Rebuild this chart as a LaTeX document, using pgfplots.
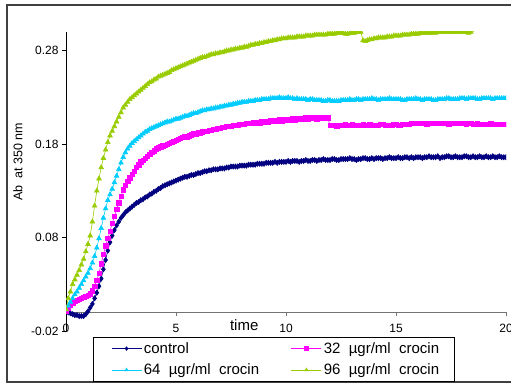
\documentclass[border=0pt]{standalone}
\usepackage{fontspec}
\setmainfont{Liberation Sans}
\usepackage{pgfplots}
\pgfplotsset{compat=1.18}
\definecolor{cnavy}{RGB}{0,0,128}
\definecolor{cmag}{RGB}{255,0,255}
\definecolor{ccyan}{RGB}{0,204,255}
\definecolor{cgreen}{RGB}{153,204,0}
\begin{document}
\begin{tikzpicture}[x=1pt,y=1pt]
\useasboundingbox (0,0) rectangle (511,383);
\draw[line width=1.3pt, black!75] (7,1) rectangle (530,378);
\node[rotate=90, font=\fontsize{12.5}{15}\selectfont, inner sep=0pt] at (18,221) {Ab\ \ at 350 nm};
\begin{axis}[
  at={(66pt,52pt)}, anchor=south west,
  scale only axis, width=440pt, height=299pt,
  xmin=0, xmax=20, ymin=-0.02, ymax=0.30,
  axis x line*=middle, axis y line*=left,
  xtick={0,5,10,15,20}, xticklabels={0,5,10,15,20},
  ytick={-0.02,0.08,0.18,0.28}, yticklabels={-0.02,0.08,0.18,0.28},
  hide obscured x ticks=false, hide obscured y ticks=false,
  tick align=outside, major tick length=4pt,
  x axis line style={black!55, line width=1pt},
  y axis line style={black, line width=0.8pt},
  xtick style={black!55, line width=0.8pt},
  ytick style={black, line width=0.8pt},
  tick label style={font=\fontsize{12}{14}\selectfont},
  xticklabel style={yshift=-4pt},
  xlabel={\fontsize{15}{17}\selectfont time},
  xlabel style={at={(axis description cs:0.405,0.02)}, anchor=center},
  clip marker paths=true,
  legend columns=2,
  legend cell align=left,
  legend style={at={(axis description cs:0.061,-0.02)}, anchor=north west,
    draw=black, line width=0.8pt, fill=white,
    font=\fontsize{15}{17}\selectfont,
    inner xsep=13pt, inner ysep=3pt,
    /tikz/every even column/.append style={column sep=25pt},
    row sep=5pt},
  legend image code/.code={\path (0pt,0pt); \draw[mark repeat=2,mark phase=2,#1, mark size=1.8pt] plot coordinates {(5pt,0pt) (20pt,0pt) (35pt,0pt)};},
]
\addplot[cnavy, line width=0.6pt, mark=diamond*, mark size=2.6pt, mark options={solid}] coordinates {
(0,0.001) (0.1,0.000) (0.2,-0.001) (0.3,-0.002) (0.4,-0.003) (0.5,-0.003) (0.6,-0.004) (0.7,-0.004) (0.8,-0.004) (0.9,-0.002)
(1.0,0.001) (1.1,0.005) (1.2,0.009) (1.3,0.015) (1.4,0.021) (1.5,0.028) (1.6,0.036) (1.7,0.046) (1.8,0.056) (1.9,0.066)
(2.0,0.075) (2.1,0.082) (2.2,0.088) (2.3,0.093) (2.4,0.097) (2.5,0.101) (2.6,0.104) (2.7,0.107) (2.8,0.109) (2.9,0.111)
(3.0,0.113) (3.1,0.115) (3.2,0.117) (3.3,0.118) (3.4,0.120) (3.5,0.121) (3.6,0.123) (3.7,0.124) (3.8,0.126) (3.9,0.127)
(4.0,0.129) (4.1,0.130) (4.2,0.132) (4.3,0.133) (4.4,0.135) (4.5,0.136) (4.6,0.137) (4.7,0.138) (4.8,0.139) (4.9,0.140)
(5.0,0.141) (5.1,0.142) (5.2,0.143) (5.3,0.144) (5.4,0.145) (5.5,0.145) (5.6,0.146) (5.7,0.147) (5.8,0.147) (5.9,0.148)
(6.0,0.149) (6.1,0.149) (6.2,0.150) (6.3,0.151) (6.4,0.151) (6.5,0.152) (6.6,0.152) (6.7,0.153) (6.8,0.153) (6.9,0.153)
(7.0,0.154) (7.1,0.154) (7.2,0.154) (7.3,0.155) (7.4,0.155) (7.5,0.156) (7.6,0.156) (7.7,0.156) (7.8,0.156) (7.9,0.157)
(8.0,0.157) (8.1,0.157) (8.2,0.157) (8.3,0.158) (8.4,0.158) (8.5,0.158) (8.6,0.158) (8.7,0.159) (8.8,0.159) (8.9,0.159)
(9.0,0.159) (9.1,0.160) (9.2,0.160) (9.3,0.160) (9.4,0.160) (9.5,0.161) (9.6,0.160) (9.7,0.161) (9.8,0.161) (9.9,0.161)
(10.0,0.161) (10.1,0.162) (10.2,0.161) (10.3,0.162) (10.4,0.162) (10.5,0.162) (10.6,0.161) (10.7,0.162) (10.8,0.162) (10.9,0.163)
(11.0,0.162) (11.1,0.162) (11.2,0.163) (11.3,0.163) (11.4,0.162) (11.5,0.163) (11.6,0.163) (11.7,0.164) (11.8,0.163) (11.9,0.163)
(12.0,0.163) (12.1,0.164) (12.2,0.164) (12.3,0.163) (12.4,0.163) (12.5,0.164) (12.6,0.164) (12.7,0.164) (12.8,0.164) (12.9,0.165)
(13.0,0.164) (13.1,0.164) (13.2,0.163) (13.3,0.164) (13.4,0.164) (13.5,0.165) (13.6,0.165) (13.7,0.164) (13.8,0.164) (13.9,0.165)
(14.0,0.164) (14.1,0.165) (14.2,0.165) (14.3,0.165) (14.4,0.164) (14.5,0.165) (14.6,0.165) (14.7,0.166) (14.8,0.165) (14.9,0.165)
(15.0,0.165) (15.1,0.166) (15.2,0.165) (15.3,0.165) (15.4,0.166) (15.5,0.166) (15.6,0.165) (15.7,0.166) (15.8,0.165) (15.9,0.166)
(16.0,0.166) (16.1,0.166) (16.2,0.165) (16.3,0.166) (16.4,0.166) (16.5,0.167) (16.6,0.166) (16.7,0.166) (16.8,0.166) (16.9,0.167)
(17.0,0.165) (17.1,0.166) (17.2,0.166) (17.3,0.167) (17.4,0.167) (17.5,0.166) (17.6,0.166) (17.7,0.167) (17.8,0.166) (17.9,0.166)
(18.0,0.166) (18.1,0.167) (18.2,0.167) (18.3,0.166) (18.4,0.166) (18.5,0.167) (18.6,0.166) (18.7,0.166) (18.8,0.167) (18.9,0.166)
(19.0,0.166) (19.1,0.167) (19.2,0.166) (19.3,0.166) (19.4,0.167) (19.5,0.166) (19.6,0.166) (19.7,0.167) (19.8,0.166) (19.9,0.166) (20.0,0.166)
};
\addlegendentry{control}
\addplot[cmag, line width=0.6pt, mark=square*, mark size=2.2pt, mark options={solid}] coordinates {
(0,0.001) (0.1,0.005) (0.2,0.008) (0.3,0.010) (0.4,0.012) (0.5,0.013) (0.6,0.014) (0.7,0.015) (0.8,0.016) (0.9,0.017)
(1.0,0.018) (1.1,0.020) (1.2,0.023) (1.3,0.028) (1.4,0.034) (1.5,0.042) (1.6,0.052) (1.7,0.062) (1.8,0.071) (1.9,0.079)
(2.0,0.087) (2.1,0.095) (2.2,0.103) (2.3,0.110) (2.4,0.117) (2.5,0.124) (2.6,0.131) (2.7,0.136) (2.8,0.140) (2.9,0.144)
(3.0,0.148) (3.1,0.151) (3.2,0.155) (3.3,0.158) (3.4,0.161) (3.5,0.163) (3.6,0.165) (3.7,0.167) (3.8,0.169) (3.9,0.171)
(4.0,0.173) (4.1,0.175) (4.2,0.176) (4.3,0.177) (4.4,0.178) (4.5,0.179) (4.6,0.180) (4.7,0.181) (4.8,0.182) (4.9,0.183)
(5.0,0.184) (5.1,0.185) (5.2,0.186) (5.3,0.187) (5.4,0.188) (5.5,0.188) (5.6,0.189) (5.7,0.190) (5.8,0.191) (5.9,0.191)
(6.0,0.192) (6.1,0.192) (6.2,0.193) (6.3,0.194) (6.4,0.194) (6.5,0.195) (6.6,0.195) (6.7,0.196) (6.8,0.196) (6.9,0.197)
(7.0,0.197) (7.1,0.198) (7.2,0.198) (7.3,0.199) (7.4,0.199) (7.5,0.199) (7.6,0.200) (7.7,0.200) (7.8,0.200) (7.9,0.201)
(8.0,0.201) (8.1,0.201) (8.2,0.202) (8.3,0.202) (8.4,0.202) (8.5,0.203) (8.6,0.203) (8.7,0.203) (8.8,0.203) (8.9,0.204)
(9.0,0.204) (9.1,0.204) (9.2,0.204) (9.3,0.205) (9.4,0.205) (9.5,0.205) (9.6,0.205) (9.7,0.206) (9.8,0.205) (9.9,0.206)
(10.0,0.206) (10.1,0.206) (10.2,0.206) (10.3,0.207) (10.4,0.206) (10.5,0.207) (10.6,0.207) (10.7,0.207) (10.8,0.207) (10.9,0.208)
(11.0,0.207) (11.1,0.208) (11.2,0.208) (11.3,0.208) (11.4,0.207) (11.5,0.208) (11.6,0.208) (11.7,0.209) (11.8,0.208) (11.9,0.208)
(12.0,0.200) (12.1,0.200) (12.2,0.200) (12.3,0.199) (12.4,0.200) (12.5,0.200) (12.6,0.200) (12.7,0.201) (12.8,0.200) (12.9,0.200)
(13.0,0.201) (13.1,0.200) (13.2,0.200) (13.3,0.200) (13.4,0.200) (13.5,0.201) (13.6,0.200) (13.7,0.200) (13.8,0.201) (13.9,0.200)
(14.0,0.200) (14.1,0.200) (14.2,0.200) (14.3,0.201) (14.4,0.201) (14.5,0.200) (14.6,0.200) (14.7,0.200) (14.8,0.200) (14.9,0.201)
(15.0,0.201) (15.1,0.200) (15.2,0.200) (15.3,0.201) (15.4,0.201) (15.5,0.201) (15.6,0.201) (15.7,0.202) (15.8,0.202) (15.9,0.202)
(16.0,0.202) (16.1,0.202) (16.2,0.202) (16.3,0.202) (16.4,0.201) (16.5,0.202) (16.6,0.202) (16.7,0.202) (16.8,0.202) (16.9,0.202)
(17.0,0.202) (17.1,0.202) (17.2,0.202) (17.3,0.202) (17.4,0.201) (17.5,0.202) (17.6,0.202) (17.7,0.202) (17.8,0.202) (17.9,0.202)
(18.0,0.202) (18.1,0.202) (18.2,0.201) (18.3,0.202) (18.4,0.202) (18.5,0.201) (18.6,0.201) (18.7,0.202) (18.8,0.201) (18.9,0.201)
(19.0,0.201) (19.1,0.201) (19.2,0.201) (19.3,0.202) (19.4,0.201) (19.5,0.201) (19.6,0.201) (19.7,0.201) (19.8,0.201) (19.9,0.201) (20.0,0.201)
};
\addlegendentry{32\ \ µgr/ml\ \ crocin}
\addplot[ccyan, line width=0.6pt, mark=triangle*, mark size=2.7pt, mark options={solid}] coordinates {
(0,0.003) (0.1,0.007) (0.2,0.011) (0.3,0.015) (0.4,0.019) (0.5,0.022) (0.6,0.026) (0.7,0.030) (0.8,0.034) (0.9,0.038)
(1.0,0.042) (1.1,0.047) (1.2,0.053) (1.3,0.060) (1.4,0.069) (1.5,0.079) (1.6,0.090) (1.7,0.101) (1.8,0.111) (1.9,0.120)
(2.0,0.126) (2.1,0.132) (2.2,0.139) (2.3,0.146) (2.4,0.153) (2.5,0.160) (2.6,0.166) (2.7,0.171) (2.8,0.175) (2.9,0.178)
(3.0,0.181) (3.1,0.183) (3.2,0.185) (3.3,0.187) (3.4,0.189) (3.5,0.191) (3.6,0.193) (3.7,0.194) (3.8,0.196) (3.9,0.197)
(4.0,0.198) (4.1,0.199) (4.2,0.200) (4.3,0.201) (4.4,0.202) (4.5,0.203) (4.6,0.204) (4.7,0.204) (4.8,0.205) (4.9,0.206)
(5.0,0.207) (5.1,0.207) (5.2,0.208) (5.3,0.209) (5.4,0.210) (5.5,0.210) (5.6,0.211) (5.7,0.212) (5.8,0.213) (5.9,0.213)
(6.0,0.214) (6.1,0.215) (6.2,0.216) (6.3,0.216) (6.4,0.217) (6.5,0.217) (6.6,0.218) (6.7,0.218) (6.8,0.219) (6.9,0.219)
(7.0,0.220) (7.1,0.220) (7.2,0.221) (7.3,0.221) (7.4,0.222) (7.5,0.222) (7.6,0.223) (7.7,0.223) (7.8,0.224) (7.9,0.224)
(8.0,0.225) (8.1,0.225) (8.2,0.225) (8.3,0.226) (8.4,0.226) (8.5,0.226) (8.6,0.227) (8.7,0.227) (8.8,0.227) (8.9,0.228)
(9.0,0.228) (9.1,0.228) (9.2,0.228) (9.3,0.229) (9.4,0.229) (9.5,0.229) (9.6,0.229) (9.7,0.230) (9.8,0.229) (9.9,0.229)
(10.0,0.229) (10.1,0.230) (10.2,0.229) (10.3,0.229) (10.4,0.228) (10.5,0.229) (10.6,0.228) (10.7,0.228) (10.8,0.228) (10.9,0.228)
(11.0,0.227) (11.1,0.228) (11.2,0.228) (11.3,0.227) (11.4,0.227) (11.5,0.227) (11.6,0.227) (11.7,0.226) (11.8,0.226) (11.9,0.227)
(12.0,0.227) (12.1,0.226) (12.2,0.226) (12.3,0.226) (12.4,0.226) (12.5,0.227) (12.6,0.227) (12.7,0.227) (12.8,0.227) (12.9,0.228)
(13.0,0.227) (13.1,0.227) (13.2,0.228) (13.3,0.228) (13.4,0.227) (13.5,0.228) (13.6,0.228) (13.7,0.228) (13.8,0.228) (13.9,0.229)
(14.0,0.228) (14.1,0.228) (14.2,0.227) (14.3,0.228) (14.4,0.228) (14.5,0.228) (14.6,0.228) (14.7,0.229) (14.8,0.228) (14.9,0.228)
(15.0,0.228) (15.1,0.228) (15.2,0.228) (15.3,0.227) (15.4,0.227) (15.5,0.228) (15.6,0.228) (15.7,0.228) (15.8,0.228) (15.9,0.229)
(16.0,0.228) (16.1,0.228) (16.2,0.227) (16.3,0.228) (16.4,0.228) (16.5,0.228) (16.6,0.228) (16.7,0.227) (16.8,0.227) (16.9,0.228)
(17.0,0.228) (17.1,0.228) (17.2,0.228) (17.3,0.229) (17.4,0.229) (17.5,0.228) (17.6,0.228) (17.7,0.228) (17.8,0.228) (17.9,0.229)
(18.0,0.229) (18.1,0.229) (18.2,0.228) (18.3,0.229) (18.4,0.229) (18.5,0.229) (18.6,0.229) (18.7,0.228) (18.8,0.228) (18.9,0.229)
(19.0,0.229) (19.1,0.229) (19.2,0.229) (19.3,0.229) (19.4,0.228) (19.5,0.229) (19.6,0.229) (19.7,0.229) (19.8,0.229) (19.9,0.229) (20.0,0.229)
};
\addlegendentry{64\ \ µgr/ml\ \ crocin}
\addplot[cgreen, line width=0.6pt, mark=triangle*, mark size=2.7pt, mark options={solid}] coordinates {
(0,0.003) (0.1,0.015) (0.2,0.022) (0.3,0.030) (0.4,0.035) (0.5,0.040) (0.6,0.045) (0.7,0.051) (0.8,0.057) (0.9,0.065)
(1.0,0.073) (1.1,0.082) (1.2,0.097) (1.3,0.114) (1.4,0.130) (1.5,0.143) (1.6,0.155) (1.7,0.165) (1.8,0.174) (1.9,0.182)
(2.0,0.189) (2.1,0.194) (2.2,0.199) (2.3,0.204) (2.4,0.209) (2.5,0.214) (2.6,0.219) (2.7,0.222) (2.8,0.225) (2.9,0.228)
(3.0,0.230) (3.1,0.232) (3.2,0.234) (3.3,0.236) (3.4,0.238) (3.5,0.240) (3.6,0.242) (3.7,0.244) (3.8,0.246) (3.9,0.247)
(4.0,0.249) (4.1,0.250) (4.2,0.252) (4.3,0.253) (4.4,0.254) (4.5,0.255) (4.6,0.256) (4.7,0.257) (4.8,0.259) (4.9,0.260)
(5.0,0.261) (5.1,0.262) (5.2,0.263) (5.3,0.264) (5.4,0.265) (5.5,0.266) (5.6,0.267) (5.7,0.268) (5.8,0.269) (5.9,0.270)
(6.0,0.271) (6.1,0.272) (6.2,0.273) (6.3,0.273) (6.4,0.274) (6.5,0.275) (6.6,0.276) (6.7,0.276) (6.8,0.277) (6.9,0.277)
(7.0,0.278) (7.1,0.278) (7.2,0.279) (7.3,0.280) (7.4,0.280) (7.5,0.281) (7.6,0.281) (7.7,0.282) (7.8,0.282) (7.9,0.283)
(8.0,0.283) (8.1,0.284) (8.2,0.284) (8.3,0.285) (8.4,0.286) (8.5,0.286) (8.6,0.287) (8.7,0.287) (8.8,0.288) (8.9,0.288)
(9.0,0.289) (9.1,0.289) (9.2,0.290) (9.3,0.290) (9.4,0.291) (9.5,0.291) (9.6,0.292) (9.7,0.292) (9.8,0.293) (9.9,0.293)
(10.0,0.293) (10.1,0.294) (10.2,0.294) (10.3,0.294) (10.4,0.294) (10.5,0.295) (10.6,0.295) (10.7,0.295) (10.8,0.295) (10.9,0.296)
(11.0,0.296) (11.1,0.296) (11.2,0.296) (11.3,0.297) (11.4,0.297) (11.5,0.297) (11.6,0.297) (11.7,0.297) (11.8,0.297) (11.9,0.298)
(12.0,0.298) (12.1,0.298) (12.2,0.298) (12.3,0.299) (12.4,0.299) (12.5,0.299) (12.6,0.299) (12.7,0.298) (12.8,0.298) (12.9,0.299)
(13.0,0.299) (13.1,0.299) (13.2,0.300) (13.3,0.300) (13.4,0.300) (13.5,0.291) (13.6,0.290) (13.7,0.291) (13.8,0.292) (13.9,0.292)
(14.0,0.293) (14.1,0.293) (14.2,0.294) (14.3,0.294) (14.4,0.294) (14.5,0.294) (14.6,0.295) (14.7,0.295) (14.8,0.295) (14.9,0.296)
(15.0,0.296) (15.1,0.296) (15.2,0.296) (15.3,0.297) (15.4,0.297) (15.5,0.297) (15.6,0.297) (15.7,0.298) (15.8,0.298) (15.9,0.298)
(16.0,0.298) (16.1,0.299) (16.2,0.299) (16.3,0.299) (16.4,0.299) (16.5,0.299) (16.6,0.299) (16.7,0.300) (16.8,0.299) (16.9,0.300)
(17.0,0.300) (17.1,0.300) (17.2,0.300) (17.3,0.300) (17.4,0.300) (17.5,0.300) (17.6,0.300) (17.7,0.300) (17.8,0.300) (17.9,0.300)
(18.0,0.300) (18.1,0.300) (18.2,0.300) (18.3,0.299) (18.4,0.300) (18.6,0.3015) (18.9,0.3015) (19.2,0.3015) (19.4,0.3015)
};
\addlegendentry{96\ \ µgr/ml\ \ crocin}
\end{axis}
\end{tikzpicture}
\end{document}
